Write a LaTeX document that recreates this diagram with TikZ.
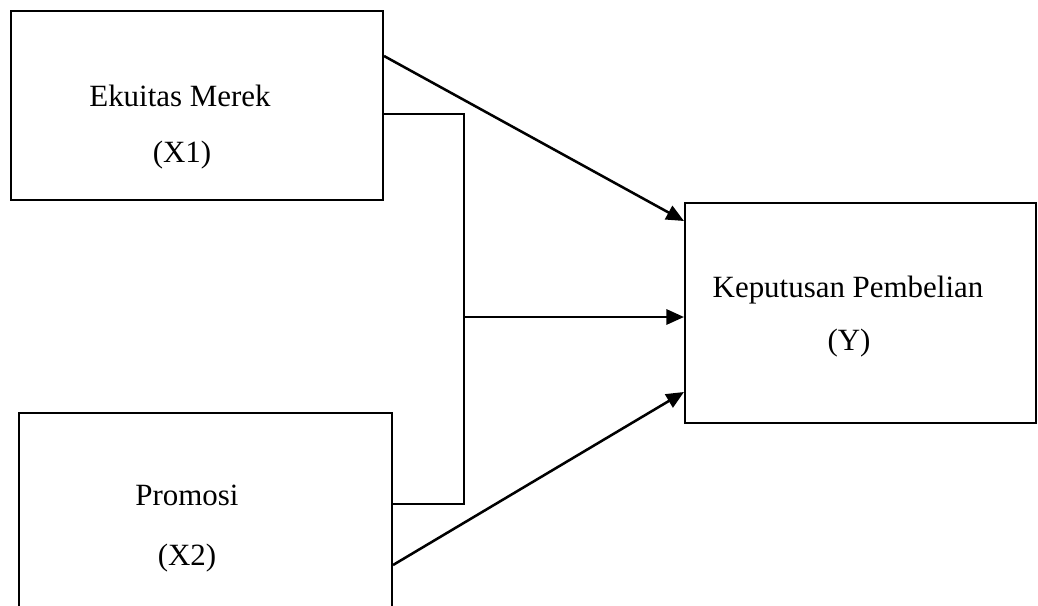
\documentclass[tikz,border=0pt]{standalone}
\usepackage{fontspec}
\setmainfont{Liberation Serif}
\usetikzlibrary{arrows.meta, positioning, calc}
\tikzset{
	varbox/.style={draw, line width=1.4pt, inner sep=0pt}
}
\tikzset{
	varlabel/.style={font=\fontsize{22}{26}\selectfont, inner sep=0pt}
}
\tikzset{
	link/.style={line width=1.8pt, -{Triangle[length=0.44cm, width=0.38cm]}}
}

\begin{document}
\begin{tikzpicture}[x=0.025cm, y=-0.025cm]
      \useasboundingbox (0,0) rectangle (1038,605);
      \node[varbox, minimum width=9.3cm, minimum height=4.725cm] (x1) at (197,105.5) {};
      \node[varbox, minimum width=9.325cm, minimum height=5.2cm] (x2) at (205.5,517) {};
      \node[varbox, minimum width=8.775cm, minimum height=5.5cm] (y) at (860.5,313) {};
      \node[varlabel] (x1name) at (180,96) {Ekuitas Merek};
      \node[varlabel] (x1code) at (182,155) {(X1)};
      \node[varlabel] (x2name) at (187,495) {Promosi};
      \node[varlabel] (x2code) at (187,558) {(X2)};
      \node[varlabel] (yname) at (848,290) {Keputusan Pembelian};
      \node[varlabel] (ycode) at (849,343) {(Y)};
      \coordinate (join) at (464,317);
      \draw[link] (x1.east |- 0,56) -- (y.west |- 0,221);
      \draw[line width=1.8pt] (x1.east |- 0,114) -| (join) |- (x2.east |- 0,504);
      \draw[link] (join) -- (y.west |- join);
      \draw[link] (x2.east |- 0,565) -- (y.west |- 0,392);
    \end{tikzpicture}
\end{document}
